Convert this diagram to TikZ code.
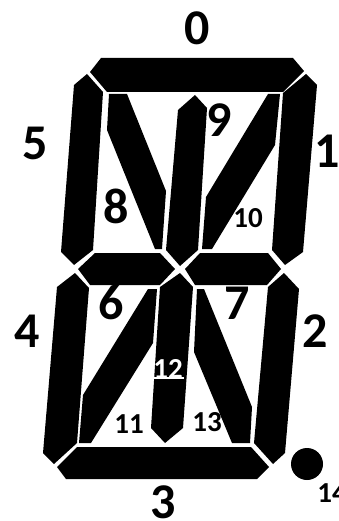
\documentclass[tikz,border=0pt]{standalone}
\usepackage{fontspec}
\setmainfont{Carlito}
\usetikzlibrary{positioning}
\tikzset{
  seg/.style={fill=black},
  biglabel/.style={font=\bfseries\fontsize{50}{50}\selectfont, anchor=base, inner sep=0pt},
  smalllabel/.style={font=\bfseries\fontsize{29}{29}\selectfont, anchor=base, inner sep=0pt}
}
\begin{document}
\begin{tikzpicture}[x=1pt,y=-1pt]
\useasboundingbox (0,0) rectangle (339,521);
% Outer bars
\fill[seg] (101,58) -- (293,58) -- (304,71) -- (283,92) -- (107,92) -- (90,72) -- cycle;
\fill[seg] (77,447) -- (251,447) -- (269,467) -- (257,479) -- (66,479) -- (57,467) -- cycle;
% Upper and lower sides
\fill[seg] (87,74) -- (103,92) -- (93,250) -- (74,265) -- (61,252) -- (74,85) -- cycle;
\fill[seg] (306,74) -- (317,85) -- (303,252) -- (285,265) -- (272,250) -- (283,93) -- cycle;
\fill[seg] (75,273) -- (89,288) -- (77,443) -- (54,464) -- (43,453) -- (57,287) -- cycle;
\fill[seg] (284,273) -- (299,289) -- (285,453) -- (273,464) -- (254,443) -- (268,287) -- cycle;
% Middle bars
\fill[seg] (78,269) -- (95,253) -- (160,253) -- (175,269) -- (160,285) -- (90,285) -- cycle;
\fill[seg] (185,269) -- (200,253) -- (268,253) -- (281,269) -- (267,285) -- (195,285) -- cycle;
% Centre spokes
\fill[seg] (195,95) -- (207,108) -- (198,250) -- (180,266) -- (166,250) -- (178,110) -- cycle;
\fill[seg] (180,273) -- (193,287) -- (183,428) -- (165,443) -- (151,428) -- (160,287) -- cycle;
% Diagonals
\fill[seg] (109,94) -- (127,94) -- (166,191) -- (162,249) -- (155,249) -- (107,130) -- cycle;
\fill[seg] (268,94) -- (280,94) -- (275,145) -- (212,249) -- (202,249) -- (206,197) -- cycle;
\fill[seg] (148,289) -- (157,289) -- (153,343) -- (91,443) -- (79,443) -- (83,395) -- cycle;
\fill[seg] (197,289) -- (204,289) -- (252,407) -- (250,443) -- (232,443) -- (194,352) -- cycle;
% Dot
\node[seg, circle, inner sep=0pt, minimum size=32pt] (dot) at (307,464) {};
% Big digits
\foreach \l/\x/\y in {0/197/45,1/327/168,2/315/347,3/163/518,4/27/347,5/35/160,6/111/319,7/237/319,8/116/223,9/219/137} {
  \node[biglabel] (lab\l) at (\x,\y) {\l};
}
% Small digits
\foreach \l/\x/\y in {10/248/227,11/129/433,13/207/431,14/332/502} {
  \node[smalllabel] (lab\l) at (\x,\y) {\l};
}
\fill[white] (153,377) rectangle (184,379);
\node[smalllabel, text=white] (lab12) at (168,378) {12};
\end{tikzpicture}
\end{document}
